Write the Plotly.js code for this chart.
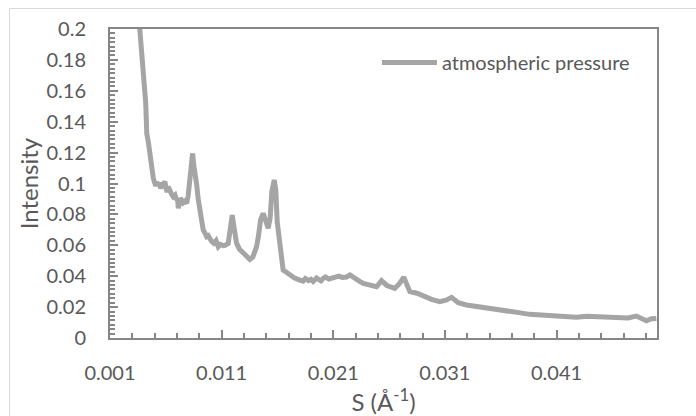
<!DOCTYPE html>
<html>
<head>
<meta charset="utf-8">
<script src="https://cdn.plot.ly/plotly-3.0.1.min.js"></script>
<style>
html,body{margin:0;padding:0;background:#fff;}
#chart{width:696px;height:416px;}
</style>
</head>
<body>
<div id="chart"></div>
<script>
// Scattering vector S (Å^-1)
const sValues = [0.0035,0.00369,0.00393,0.0041,0.0042,0.00425,0.00429,0.00445,0.0046,0.00473,0.0048,0.00488,0.005,0.0051,0.00518,0.0053,0.0054,0.00548,0.00555,0.0057,0.0058,0.00592,0.00605,0.00612,0.00622,0.0064,0.00652,0.00665,0.00682,0.00695,0.00705,0.00712,0.0072,0.0073,0.00742,0.00755,0.0077,0.00787,0.008,0.00816,0.0083,0.0084,0.0085,0.00861,0.00876,0.0089,0.00906,0.0092,0.00935,0.0095,0.00966,0.0098,0.0099,0.0101,0.0103,0.0105,0.0107,0.0109,0.01114,0.0113,0.01159,0.0118,0.01195,0.0121,0.01234,0.0126,0.01294,0.0132,0.01353,0.0138,0.01413,0.0143,0.01449,0.01472,0.0149,0.01517,0.01535,0.0155,0.01571,0.01585,0.01598,0.01622,0.01635,0.01651,0.0168,0.01711,0.0175,0.01801,0.0183,0.0185,0.0188,0.019,0.0192,0.0195,0.0199,0.0201,0.0203,0.0206,0.021,0.0213,0.0215,0.0218,0.02219,0.02249,0.0229,0.0234,0.02368,0.0243,0.02488,0.02532,0.0258,0.02651,0.0269,0.02732,0.02765,0.02786,0.0285,0.02905,0.0298,0.03054,0.0311,0.03159,0.0322,0.03293,0.034,0.03502,0.0361,0.0371,0.0379,0.0386,0.0397,0.04099,0.0419,0.04278,0.0437,0.04457,0.0456,0.04666,0.0474,0.04815,0.0486,0.04905,0.0495,0.04994];
// Intensity, atmospheric pressure
const intensity = [0.215,0.200,0.180,0.165,0.152,0.142,0.1325,0.126,0.117,0.111,0.106,0.1035,0.1005,0.0985,0.1012,0.0985,0.1005,0.0975,0.097,0.099,0.1005,0.1012,0.096,0.0945,0.0979,0.0936,0.093,0.0915,0.0925,0.0895,0.0905,0.084,0.0885,0.0905,0.0893,0.0875,0.0885,0.0872,0.092,0.105,0.1185,0.1195,0.112,0.103,0.0995,0.090,0.0828,0.076,0.0699,0.068,0.0656,0.0662,0.0645,0.0625,0.0613,0.063,0.0591,0.0605,0.0598,0.060,0.0612,0.072,0.0796,0.072,0.0614,0.0575,0.0548,0.0535,0.0509,0.0525,0.0591,0.066,0.0765,0.0807,0.077,0.071,0.078,0.095,0.1023,0.096,0.075,0.0634,0.052,0.044,0.0425,0.0408,0.039,0.0375,0.0368,0.0385,0.0372,0.038,0.0366,0.0388,0.037,0.0386,0.0395,0.0382,0.0393,0.0402,0.040,0.0392,0.0395,0.0408,0.0385,0.0365,0.0354,0.0345,0.0332,0.0371,0.034,0.0321,0.035,0.0393,0.034,0.030,0.029,0.0272,0.025,0.0235,0.0245,0.0263,0.0228,0.0214,0.0201,0.0188,0.0179,0.0170,0.0161,0.0153,0.0149,0.0144,0.0136,0.0134,0.0140,0.0138,0.0131,0.0134,0.0130,0.0142,0.0128,0.0112,0.0125,0.0127];
const seriesName = 'atmospheric pressure';
const xTitle = 'S (Å<sup>-1</sup>)';
const yTitle = 'Intensity';

const axisGrey = '#868686';
const textGrey = '#595959';
const font = 'Lato, "Open Sans", sans-serif';

const trace = {
  x: sValues, y: intensity, type: 'scatter', mode: 'lines', name: seriesName,
  line: {color: '#A5A5A5', width: 5}
};

const layout = {
  width: 696, height: 416,
  margin: {l: 110, r: 39, t: 29, b: 78},
  paper_bgcolor: '#ffffff', plot_bgcolor: '#ffffff',
  font: {family: font, color: textGrey, size: 20},
  showlegend: true,
  legend: {x: 0.488, y: 0.955, xanchor: 'left', yanchor: 'top', bgcolor: 'rgba(0,0,0,0)',
           font: {family: font, size: 20, color: textGrey}, itemwidth: 55},
  xaxis: {
    range: [0.001, 0.05], tick0: 0.001, dtick: 0.01, tickformat: '.3f',
    showgrid: false, zeroline: false, showline: true, linecolor: axisGrey, linewidth: 2, mirror: true,
    ticks: 'inside', ticklen: 8, tickwidth: 2, tickcolor: axisGrey,
    ticklabelstandoff: 16,
    minor: {dtick: 0.002, tick0: 0.001, ticks: 'inside', ticklen: 5, tickwidth: 2, tickcolor: axisGrey},
    tickfont: {family: font, size: 20, color: textGrey},
    title: {text: xTitle, font: {family: font, size: 24, color: textGrey}, standoff: 14}
  },
  yaxis: {
    range: [0, 0.2], tick0: 0, dtick: 0.02,
    showgrid: false, zeroline: false, showline: true, linecolor: axisGrey, linewidth: 2, mirror: true,
    ticks: 'inside', ticklen: 8, tickwidth: 2, tickcolor: axisGrey,
    ticklabelstandoff: 18,
    minor: {dtick: 0.02/7, tick0: 0, ticks: 'inside', ticklen: 5, tickwidth: 2, tickcolor: axisGrey},
    tickfont: {family: font, size: 20, color: textGrey},
    title: {text: yTitle, font: {family: font, size: 24, color: textGrey}, standoff: 1}
  },
  shapes: [{
    type: 'rect', xref: 'paper', yref: 'paper', layer: 'below',
    x0: (9.5 - 110) / 547, x1: (720 - 110) / 547,
    y0: (338 - 440) / 309, y1: (338 - 8.5) / 309,
    line: {color: '#D9D9D9', width: 1}, fillcolor: 'rgba(0,0,0,0)'
  }]
};

Plotly.newPlot('chart', [trace], layout, {displayModeBar: false, staticPlot: true});
</script>
</body>
</html>
